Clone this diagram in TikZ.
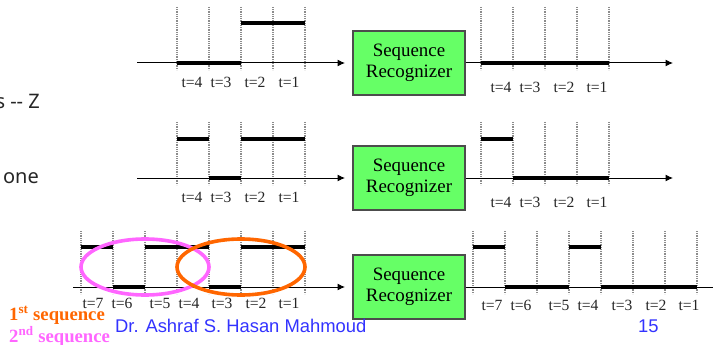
\documentclass[tikz,border=0pt]{standalone}
\usepackage{fontspec}
\setmainfont{Liberation Serif}
\newfontfamily\arialf{Liberation Sans}
\newfontfamily\notef{Noto Sans}
\usetikzlibrary{arrows.meta}
\definecolor{boxgreen}{HTML}{66FF66}
\definecolor{myorange}{HTML}{FF6600}
\definecolor{mypink}{HTML}{FF66FF}
\definecolor{myblue}{HTML}{3333FF}
\tikzset{
  axisline/.style={line width=1pt,black,-{Latex[length=7.5pt,width=7pt]}},
  tickline/.style={line width=1.4pt,black!45,dash pattern=on 1pt off 0.8pt},
  pulse/.style={line width=3.6pt,black},
  recog/.style={draw=black!70,line width=1.2pt,fill=boxgreen,minimum width=112pt,minimum height=64pt,inner sep=0pt,align=center,font=\fontsize{18.9}{21}\selectfont},
  tlabel/.style={inner sep=0pt,text=black!85,font=\fontsize{15.6}{16}\selectfont},
  seqlabel/.style={inner sep=0pt,anchor=base west,font=\fontsize{18.7}{20}\selectfont\bfseries},
  footer/.style={inner sep=0pt,anchor=base west,text=myblue,font=\arialf\fontsize{18.4}{20}\selectfont},
  bodytext/.style={inner sep=0pt,anchor=base east,text=black!85,font=\notef\fontsize{20}{22}\selectfont},
  seqring/.style={line width=3.6pt}
}
\begin{document}
\begin{tikzpicture}[x=1pt,y=-1pt]
\useasboundingbox (0,0) rectangle (713,345);
\clip (0,0) rectangle (713,345);
% text fragments
\node[bodytext] (frag1) at (40,109) {s -- Z};
\node[bodytext] (frag2) at (39,183) {one};
% row 1 and row 2 ticks
\foreach \x in {177,209,241,273,305,481,513,545,577,609}{
  \draw[tickline] (\x,7) -- (\x,70);
  \draw[tickline] (\x,122) -- (\x,185);
}
\foreach \x in {81,113,145,177,209,241,273,305,473,505,537,569,601,633,665,697}
  \draw[tickline] (\x,231) -- (\x,294);
% boxes
\node[recog] (box1) at (409,63) {Sequence\\Recognizer};
\node[recog] (box2) at (409,178) {Sequence\\Recognizer};
\node[recog] (box3) at (409,287) {Sequence\\Recognizer};
% axis ends
\coordinate (in1) at (137,63);   \coordinate (inend1) at (345,63);
\coordinate (in2) at (137,178);  \coordinate (inend2) at (345,178);
\coordinate (in3) at (73,287);   \coordinate (inend3) at (345,287);
\coordinate (out1) at (673,63);
\coordinate (out2) at (673,178);
\coordinate (out3) at (716,287);
\draw[axisline] (in1) -- (inend1);
\draw[axisline] (in2) -- (inend2);
\draw[axisline] (in3) -- (inend3);
\draw[axisline] (box1.east) -- (out1);
\draw[axisline] (box2.east) -- (out2);
\draw[line width=1pt] (box3.east) -- (out3);
% pulses row 1
\draw[pulse] (241,23) -- (305,23);
\draw[pulse] (177,63) -- (241,63);
\draw[pulse] (481,63) -- (609,63);
% pulses row 2
\draw[pulse] (177,139) -- (209,139);
\draw[pulse] (241,139) -- (305,139);
\draw[pulse] (209,178) -- (241,178);
\draw[pulse] (481,139) -- (513,139);
\draw[pulse] (513,178) -- (609,178);
% pulses row 3
\draw[pulse] (81,247) -- (113,247);
\draw[pulse] (145,247) -- (209,247);
\draw[pulse] (241,247) -- (305,247);
\draw[pulse] (113,287) -- (145,287);
\draw[pulse] (209,287) -- (241,287);
\draw[pulse] (473,247) -- (505,247);
\draw[pulse] (569,247) -- (601,247);
\draw[pulse] (505,287) -- (569,287);
\draw[pulse] (601,287) -- (697,287);
% time labels
\foreach \x/\t in {192/4,221/3,255/2,289/1}{
  \node[tlabel] (a\t) at (\x,82) {t=\t};
  \node[tlabel] (c\t) at (\x,197) {t=\t};
}
\foreach \x/\t in {501/4,530/3,564/2,597/1}{
  \node[tlabel] (b\t) at (\x,87) {t=\t};
  \node[tlabel] (d\t) at (\x,202) {t=\t};
}
\foreach \x/\t in {93/7,122/6,160/5,189/4,222/3,256/2,289/1}
  \node[tlabel] (e\t) at (\x,303) {t=\t};
\foreach \x/\t in {492/7,521/6,559/5,588/4,622/3,656/2,689/1}
  \node[tlabel] (f\t) at (\x,305) {t=\t};
% rings
\draw[seqring,mypink] (145,267) ellipse [x radius=64,y radius=28];
\draw[seqring,myorange] (241,267) ellipse [x radius=64,y radius=28];
% legend and footer
\node[seqlabel,text=myorange] (seq1) at (9,320) {1\textsuperscript{st} sequence};
\node[seqlabel,text=mypink] (seq2) at (9,342) {2\textsuperscript{nd} sequence};
\node[footer] (author) at (115,332) {Dr. Ashraf S. Hasan Mahmoud};
\node[footer] (page) at (638,332) {15};
\end{tikzpicture}
\end{document}
